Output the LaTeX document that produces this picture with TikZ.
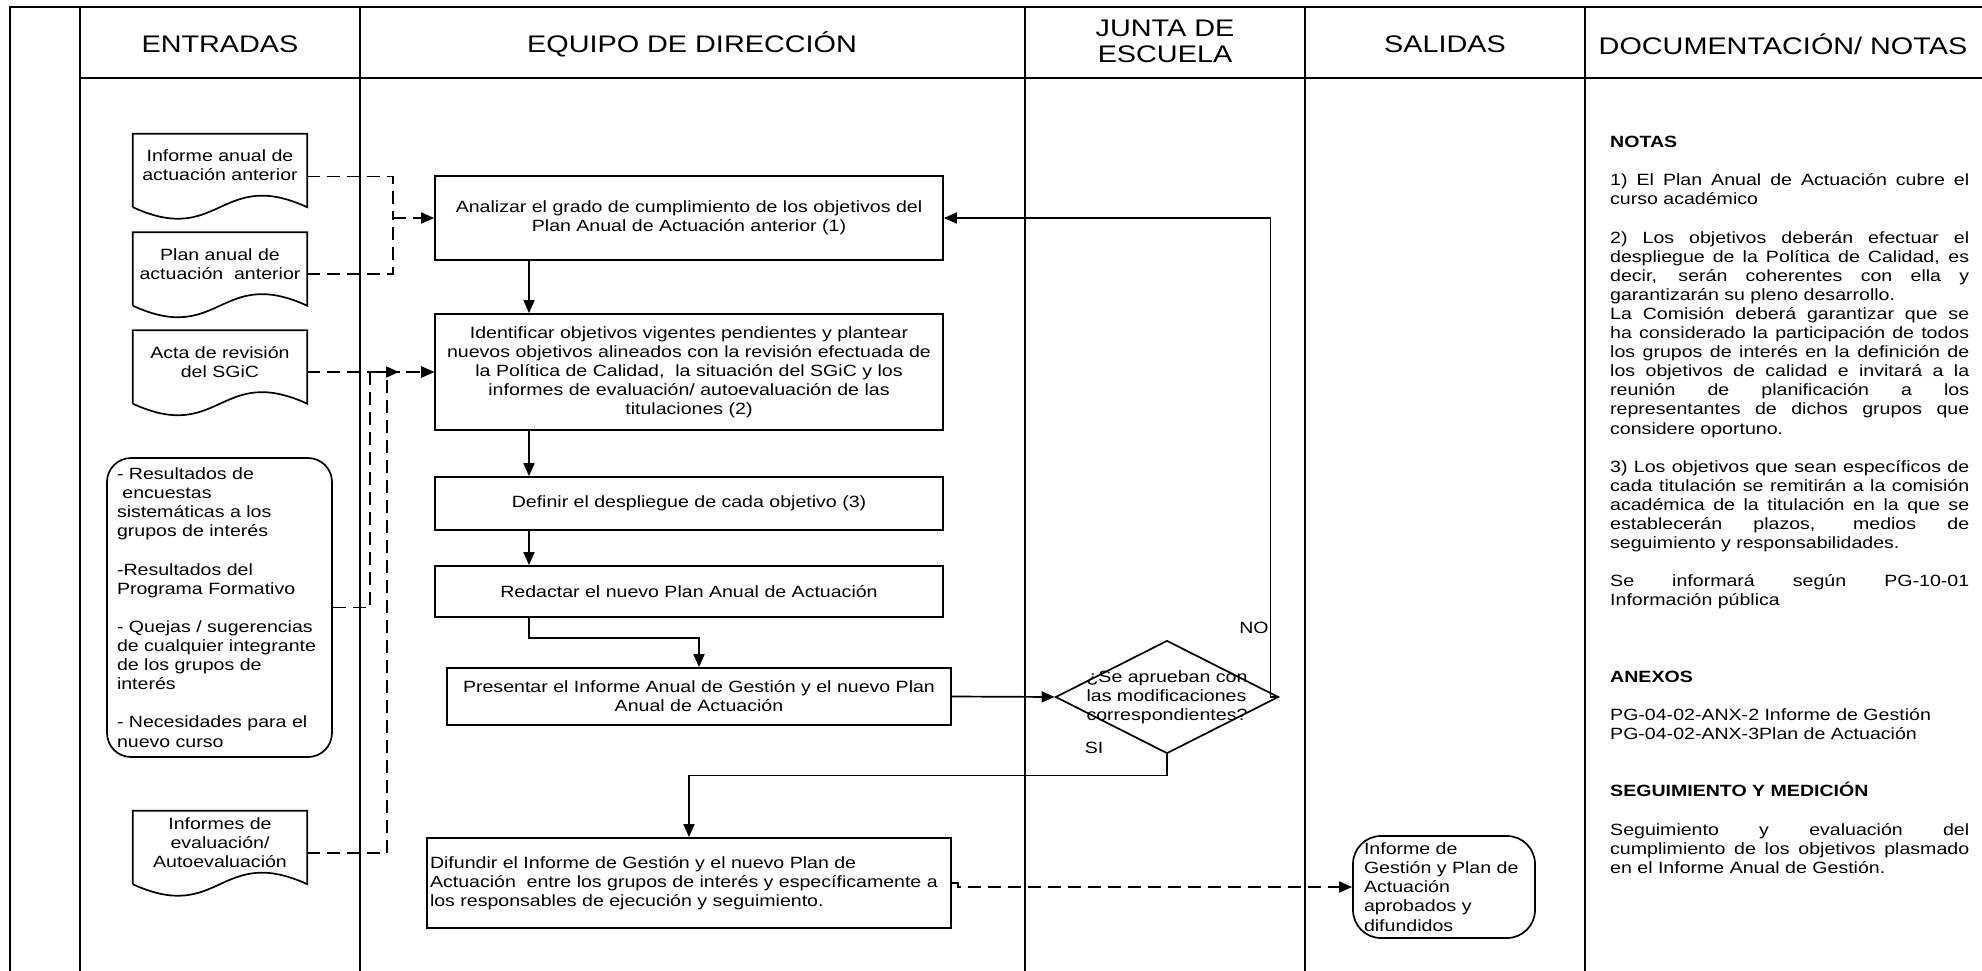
\documentclass[tikz,border=0pt]{standalone}
\usepackage{fontspec}
\setmainfont{Liberation Sans}[FakeStretch=1.2]
\usetikzlibrary{arrows.meta,shapes.geometric}

\newcommand{\bodyfont}{\fontsize{16.3pt}{19.1pt}\selectfont}
\newcommand{\headfont}{\fontsize{24pt}{26pt}\selectfont}
\newcommand{\jline}[1]{\makebox[359pt][s]{#1}}
\newcommand{\docwave}[1]{%
  \draw[line] ([yshift=-10pt]#1.south west) -- (#1.north west) -- (#1.north east) -- ([yshift=-10pt]#1.south east)
    .. controls +(-87,-40) and +(87,40) .. ([yshift=-10pt]#1.south west);}

\begin{document}
\begin{tikzpicture}[
    x=1pt, y=-1pt,
    lane/.style={line width=2.6pt},
    line/.style={line width=1.7pt},
    box/.style={rectangle, draw, line width=1.7pt, align=center, font=\bodyfont, inner sep=0pt},
    doc/.style={rectangle, minimum width=174pt, minimum height=63pt, align=center, font=\bodyfont, inner sep=0pt},
    soft/.style={rectangle, draw, line width=1.7pt, rounded corners=24pt, align=left, font=\bodyfont, inner ysep=0pt},
    decision/.style={diamond, draw, line width=1.7pt, minimum width=223pt, minimum height=113pt, inner sep=0pt},
    head/.style={font=\headfont, align=center},
    tag/.style={font=\bodyfont},
    arrow/.style={-{Triangle[length=13pt,width=11pt]}, line width=1.7pt},
    dasharrow/.style={arrow, dash pattern=on 13pt off 7pt},
    dashline/.style={line, dash pattern=on 13pt off 7pt}
  ]
    \useasboundingbox (0,0) rectangle (1982,971);

    \draw[lane] (10,971) -- (10,7) -- (1982,7);
    \draw[lane] (80,78) -- (1982,78);
    \foreach \x in {80,360,1025,1305,1585}
      \draw[lane] (\x,7) -- (\x,971);

    \node[head] (hent) at (220,44) {ENTRADAS};
    \node[head] (hequipo) at (692,44) {EQUIPO DE DIRECCIÓN};
    \node[head] (hjunta) at (1165,41) {JUNTA DE\\ESCUELA};
    \node[head] (hsal) at (1445,44) {SALIDAS};
    \node[head] (hdoc) at (1783,44) {DOCUMENTACIÓN/ NOTAS};

    \node[doc] (in1) at (220,165.5) {Informe anual de\\actuación anterior};
    \node[doc] (in2) at (220,264) {Plan anual de\\actuación\ \ anterior};
    \node[doc] (in3) at (220,362) {Acta de revisión\\del SGiC};
    \node[doc] (in5) at (220,842.5) {Informes de\\evaluación/\\Autoevaluación};
    \docwave{in1}
    \docwave{in2}
    \docwave{in3}
    \docwave{in5}

    \node[soft, text width=205pt, inner xsep=10pt, minimum height=299pt] (res) at (219.5,607.5)
      {- Resultados de\\\ encuestas\\sistemáticas a los\\grupos de interés\\[19.1pt]
       -Resultados del\\Programa Formativo\\[19.1pt]
       - Quejas / sugerencias\\de cualquier integrante\\de los grupos de\\interés\\[19.1pt]
       - Necesidades para el\\nuevo curso};

    \node[box, minimum width=508pt, minimum height=84pt] (A) at (689,218)
      {Analizar el grado de cumplimiento de los objetivos del\\Plan Anual de Actuación anterior (1)};
    \node[box, minimum width=508pt, minimum height=116pt] (B) at (689,372)
      {Identificar objetivos vigentes pendientes y plantear\\nuevos objetivos alineados con la revisión efectuada de\\la Política de Calidad,\ \ la situación del SGiC y los\\informes de evaluación/ autoevaluación de las\\titulaciones (2)};
    \node[box, minimum width=508pt, minimum height=53pt] (C) at (689,503.5)
      {Definir el despliegue de cada objetivo (3)};
    \node[box, minimum width=508pt, minimum height=51pt] (D) at (689,591.5)
      {Redactar el nuevo Plan Anual de Actuación};
    \node[box, minimum width=504pt, minimum height=57pt] (E) at (699,696.5)
      {Presentar el Informe Anual de Gestión y el nuevo Plan\\Anual de Actuación};
    \node[box, text width=518pt, inner xsep=3pt, minimum height=90pt, align=left] (F) at (689,883)
      {\mbox{Difundir el Informe de Gestión y el nuevo Plan de}\\\mbox{Actuación\ \ entre los grupos de interés y específicamente a}\\\mbox{los responsables de ejecución y seguimiento.}};

    \node[decision, label={[tag, align=left]center:¿Se aprueban con\\las modificaciones\\correspondientes?}] (dec) at (1167,697) {};
    \node[tag] (no) at (1254,628) {NO};
    \node[tag] (si) at (1094,748) {SI};

    \node[soft, text width=160pt, inner xsep=11pt, minimum height=102pt, rounded corners=28pt] (out) at (1444,887)
      {Informe de\\Gestión y Plan de\\Actuación\\aprobados y\\difundidos};

    \node[tag, anchor=north west, align=left, inner sep=0pt] (notas) at (1610,136)
      {\textbf{NOTAS}\\[19.1pt]
       \jline{1) El Plan Anual de Actuación cubre el}\\
       curso académico\\[19.1pt]
       \jline{2) Los objetivos deberán efectuar el}\\
       \jline{despliegue de la Política de Calidad, es}\\
       \jline{decir, serán coherentes con ella y}\\
       garantizarán su pleno desarrollo.\\
       \jline{La Comisión deberá garantizar que se}\\
       \jline{ha considerado la participación de todos}\\
       \jline{los grupos de interés en la definición de}\\
       \jline{los objetivos de calidad e invitará a la}\\
       \jline{reunión de planificación a los}\\
       \jline{representantes de dichos grupos que}\\
       considere oportuno.\\[19.1pt]
       \jline{3) Los objetivos que sean específicos de}\\
       \jline{cada titulación se remitirán a la comisión}\\
       \jline{académica de la titulación en la que se}\\
       \jline{establecerán plazos, medios de}\\
       seguimiento y responsabilidades.\\[19.1pt]
       \jline{Se informará según PG-10-01}\\
       Información pública\\[57.3pt]
       \textbf{ANEXOS}\\[19.1pt]
       PG-04-02-ANX-2 Informe de Gestión\\
       PG-04-02-ANX-3Plan de Actuación\\[38.2pt]
       \textbf{SEGUIMIENTO Y MEDICIÓN}\\[19.1pt]
       \jline{Seguimiento y evaluación del}\\
       \jline{cumplimiento de los objetivos plasmado}\\
       en el Informe Anual de Gestión.};

    \coordinate (spine) at (529,0);
    \coordinate (j1) at (393,218);
    \coordinate (j2) at (370,372);
    \coordinate (j3) at (387,372);
    \coordinate (j4) at (399,372);

    \draw[dashline] ([yshift=-11pt]in1.east) -| (j1);
    \draw[dashline] ([yshift=-10pt]in2.east) -| (j1);
    \draw[dasharrow] (j1) -- (A.west);
    \draw[dasharrow] ([yshift=-10pt]in3.east) -- ([yshift=-10pt]in3.east -| B.west);
    \draw[dasharrow] (res.east) -| (j2) -- (j4);
    \draw[dasharrow] ([yshift=-10.5pt]in5.east) -| (j3) -- (B.west);

    \draw[arrow] (A.south -| spine) -- (B.north -| spine);
    \draw[arrow] (B.south -| spine) -- (C.north -| spine);
    \draw[arrow] (C.south -| spine) -- (D.north -| spine);
    \draw[arrow] (D.south -| spine) -- ++(0,20) -| (E.north);
    \draw[arrow] (E.east) -- (dec.west);
    \draw[arrow] (dec.east) -- ++(-9,0) |- (A.east);
    \draw[arrow] (dec.south) -- ++(0,21) -| (F.north);
    \draw[dasharrow] (F.east) -- ++(6,0) |- (out.west);
  \end{tikzpicture}
\end{document}
